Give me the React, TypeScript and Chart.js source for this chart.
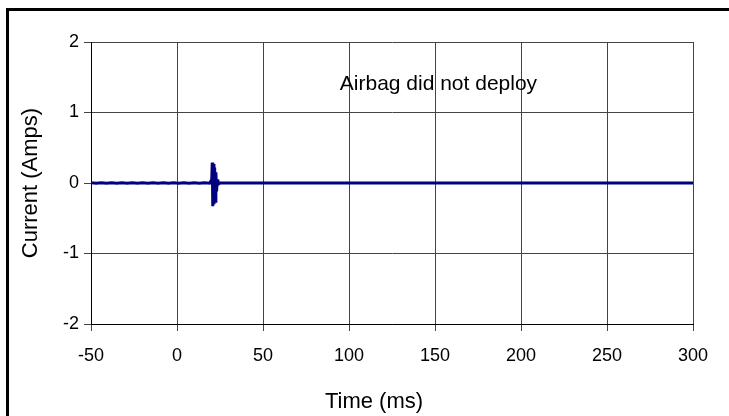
import React, { useEffect, useRef } from "react";
import { Chart, registerables } from "chart.js";

Chart.register(...registerables);

// ---- data ----
const timeMs = [
  -50, -47, -44, -41, -38, -35, -32, -29, -26, -23, -20, -17, -14, -11, -8, -5, -2, 1, 4, 7, 10, 13, 16, 19,
  20.2, 20.5, 20.8, 21.2, 21.5, 21.9, 22.2, 22.6, 23.0, 23.4, 23.8,
  25, 100, 200, 300,
];
const currentAmps = [
  0.003, -0.004, 0.004, -0.002, 0.003, -0.004, 0.003, -0.002, 0.004, -0.003, 0.002, -0.004, 0.003, -0.002, 0.004, -0.003, 0.002, -0.004, 0.004, -0.002, 0.003, -0.004, 0.003, -0.002,
  0.05, 0.29, -0.33, 0.27, -0.3, 0.22, -0.26, 0.15, -0.12, 0.05, -0.02,
  0.0, 0.0, 0.0, 0.0,
];
const xTickRange = [-50, 300, 50]; // min, max, step
const yTickRange = [-2, 2, 1];
const annotationText = "Airbag did not deploy";
const annotationPoint = [152, 1.4];
const xTitle = "Time (ms)";
const yTitle = "Current (Amps)";

const FONT = '"Liberation Sans", Arial, sans-serif';

export default function App() {
  const canvasRef = useRef<HTMLCanvasElement | null>(null);

  useEffect(() => {
    const canvas = canvasRef.current;
    if (!canvas) return;

    const textPlugin = {
      id: "textPlugin",
      afterDraw(chart: any) {
        const ctx = chart.ctx;
        const xs = chart.scales.x;
        const ys = chart.scales.y;
        ctx.save();
        ctx.fillStyle = "#000";
        ctx.textAlign = "center";
        ctx.textBaseline = "middle";
        ctx.font = `21px ${FONT}`;
        ctx.fillText(
          annotationText,
          xs.getPixelForValue(annotationPoint[0]),
          ys.getPixelForValue(annotationPoint[1])
        );
        const ca = chart.chartArea;
        ctx.font = `22px ${FONT}`;
        ctx.fillText(xTitle, (ca.left + ca.right) / 2 - 18, 402);
        ctx.restore();
      },
    };

    const chart = new Chart(canvas, {
      type: "line",
      data: {
        datasets: [
          {
            data: timeMs.map((t, i) => ({ x: t, y: currentAmps[i] })),
            borderColor: "#000080",
            borderWidth: 3,
            pointRadius: 0,
            tension: 0,
            fill: false,
          },
        ],
      },
      options: {
        responsive: false,
        animation: false,
        devicePixelRatio: 1,
        layout: { padding: { left: 0, top: 42, right: 36, bottom: 0 } },
        plugins: {
          legend: { display: false },
          tooltip: { enabled: false },
        },
        scales: {
          x: {
            type: "linear",
            min: xTickRange[0],
            max: xTickRange[1],
            afterFit: (s: any) => {
              s.height = 92;
            },
            ticks: {
              stepSize: xTickRange[2],
              color: "#000",
              font: { family: FONT, size: 18 },
              padding: 14,
              maxRotation: 0,
            },
            grid: { color: "#444", lineWidth: 1, tickLength: 7 },
            border: { display: true, color: "#000", width: 1 },
          },
          y: {
            type: "linear",
            min: yTickRange[0],
            max: yTickRange[1],
            afterFit: (s: any) => {
              s.width = 91;
            },
            ticks: {
              stepSize: yTickRange[2],
              color: "#000",
              font: { family: FONT, size: 18 },
              padding: 5,
            },
            grid: { color: "#444", lineWidth: 1, tickLength: 7 },
            border: { display: true, color: "#000", width: 1 },
            title: {
              display: true,
              text: yTitle,
              color: "#000",
              font: { family: FONT, size: 22 },
              padding: { top: 18, bottom: 0 },
            },
          },
        },
      },
      plugins: [textPlugin],
    });

    return () => chart.destroy();
  }, []);

  return (
    <div style={{ position: "fixed", left: 0, top: 0, width: 729, height: 416, background: "#fff" }}>
      <canvas
        ref={canvasRef}
        width={729}
        height={416}
        style={{ position: "absolute", left: 0, top: 0, width: 729, height: 416 }}
      />
      <div
        style={{
          position: "absolute",
          left: 6,
          top: 8,
          width: 723,
          height: 408,
          borderLeft: "3px solid #000",
          borderTop: "3px solid #000",
          boxSizing: "border-box",
          pointerEvents: "none",
        }}
      />
    </div>
  );
}
